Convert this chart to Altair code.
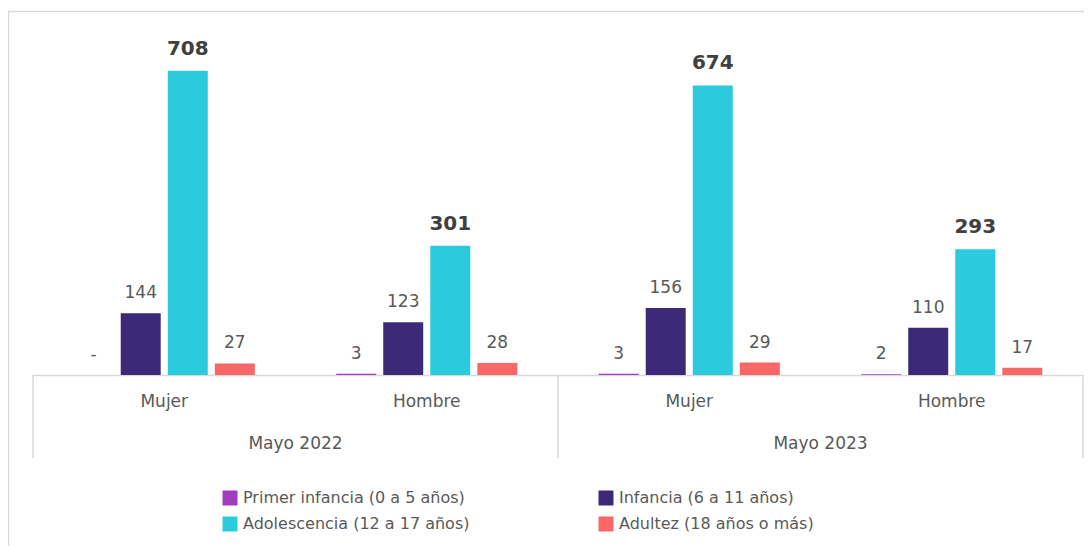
import altair as alt
import pandas as pd

# ---- data ----
years = ["Mayo 2022", "Mayo 2022", "Mayo 2023", "Mayo 2023"]
sexes = ["Mujer", "Hombre", "Mujer", "Hombre"]
series = [
    "Primer infancia (0 a 5 años)",
    "Infancia (6 a 11 años)",
    "Adolescencia (12 a 17 años)",
    "Adultez (18 años o más)",
]
primer_infancia = [0, 3, 3, 2]
infancia = [144, 123, 156, 110]
adolescencia = [708, 301, 674, 293]
adultez = [27, 28, 29, 17]
colors = ["#A03CBE", "#3C2A78", "#2BCBDD", "#F96767"]

year_labels = ["Mayo 2022", "Mayo 2023"]

values_by_series = [primer_infancia, infancia, adolescencia, adultez]
rows = []
for s, vals in zip(series, values_by_series):
    for y, sx, v in zip(years, sexes, vals):
        rows.append({
            "key": f"{y}|{sx}",
            "serie": s,
            "valor": v,
            "etiqueta": "-" if v == 0 else str(v),
            "destacado": s == series[2],
        })
df = pd.DataFrame(rows)
keys = [f"{y}|{sx}" for y, sx in zip(years, sexes)]

W, H = 1050, 363
FONT = "DejaVu Sans"
GRID = "#D9D9D9"
TXT = "#595959"

x_scale = alt.Scale(domain=keys, paddingInner=0.31, paddingOuter=0.155)
xo_scale = alt.Scale(domain=series, paddingInner=0.15)
y_scale = alt.Scale(domain=[0, 845], nice=False, zero=True)

x_enc = alt.X(
    "key:N",
    sort=keys,
    scale=x_scale,
    axis=alt.Axis(
        title=None,
        labelExpr="split(datum.label, '|')[1]",
        labelAngle=0,
        labelFont=FONT,
        labelFontSize=17,
        labelColor=TXT,
        labelBaseline="alphabetic",
        labelPadding=31,
        ticks=False,
        tickSize=0,
        domainColor=GRID,
        domainWidth=1.5,
        grid=False,
    ),
)
xo_enc = alt.XOffset("serie:N", sort=series, scale=xo_scale)
y_enc = alt.Y("valor:Q", scale=y_scale, axis=None)

bars = alt.Chart(df).mark_bar().encode(
    x=x_enc,
    xOffset=xo_enc,
    y=y_enc,
    color=alt.Color(
        "serie:N",
        sort=series,
        scale=alt.Scale(domain=series, range=colors),
        legend=alt.Legend(
            title=None,
            orient="none",
            direction="horizontal",
            legendX=189,
            legendY=478,
            columns=2,
            columnPadding=128,
            rowPadding=10,
            padding=0,
            symbolType="square",
            symbolSize=225,
            symbolStrokeWidth=0,
            labelFont=FONT,
            labelFontSize=16,
            labelColor=TXT,
            labelOffset=5,
            labelLimit=400,
        ),
    ),
)

labels = alt.Chart(df).transform_filter("!datum.destacado").mark_text(
    font=FONT, fontSize=17, color=TXT, baseline="alphabetic", dy=-15
).encode(x=x_enc, xOffset=xo_enc, y=y_enc, text="etiqueta:N")

labels_bold = alt.Chart(df).transform_filter("datum.destacado").mark_text(
    font=FONT, fontSize=20, fontWeight="bold", color="#404040",
    baseline="alphabetic", dy=-16
).encode(x=x_enc, xOffset=xo_enc, y=y_enc, text="etiqueta:N")

dummy = pd.DataFrame({"d": [0]})


def rule(x, x2, y, y2):
    return alt.Chart(dummy).mark_rule(color=GRID, strokeWidth=1.5).encode(
        x=alt.value(x), x2=alt.value(x2), y=alt.value(y), y2=alt.value(y2)
    )


frame = [
    rule(-25, W + 1, -0.5, -0.5),        # top border
    rule(-24.5, -24.5, -0.5, 534),       # left border
    rule(0, 0, H, H + 83),               # separators of the category axis
    rule(W / 2, W / 2, H, H + 83),
    rule(W, W, H, H + 83),
]

year_text = [
    alt.Chart(dummy).mark_text(
        font=FONT, fontSize=17, color=TXT, baseline="alphabetic"
    ).encode(x=alt.value(W * (2 * i + 1) / 4), y=alt.value(H + 73.5),
             text=alt.value(lbl))
    for i, lbl in enumerate(year_labels)
]

chart = alt.layer(bars, labels, labels_bold, *frame, *year_text).properties(
    width=W,
    height=H,
    autosize=alt.AutoSizeParams(type="none"),
    padding={"left": 25, "top": 4, "right": 1, "bottom": 171},
).configure_view(stroke=None)

chart.save("out.html", embed_options={"renderer": "svg", "actions": False})
